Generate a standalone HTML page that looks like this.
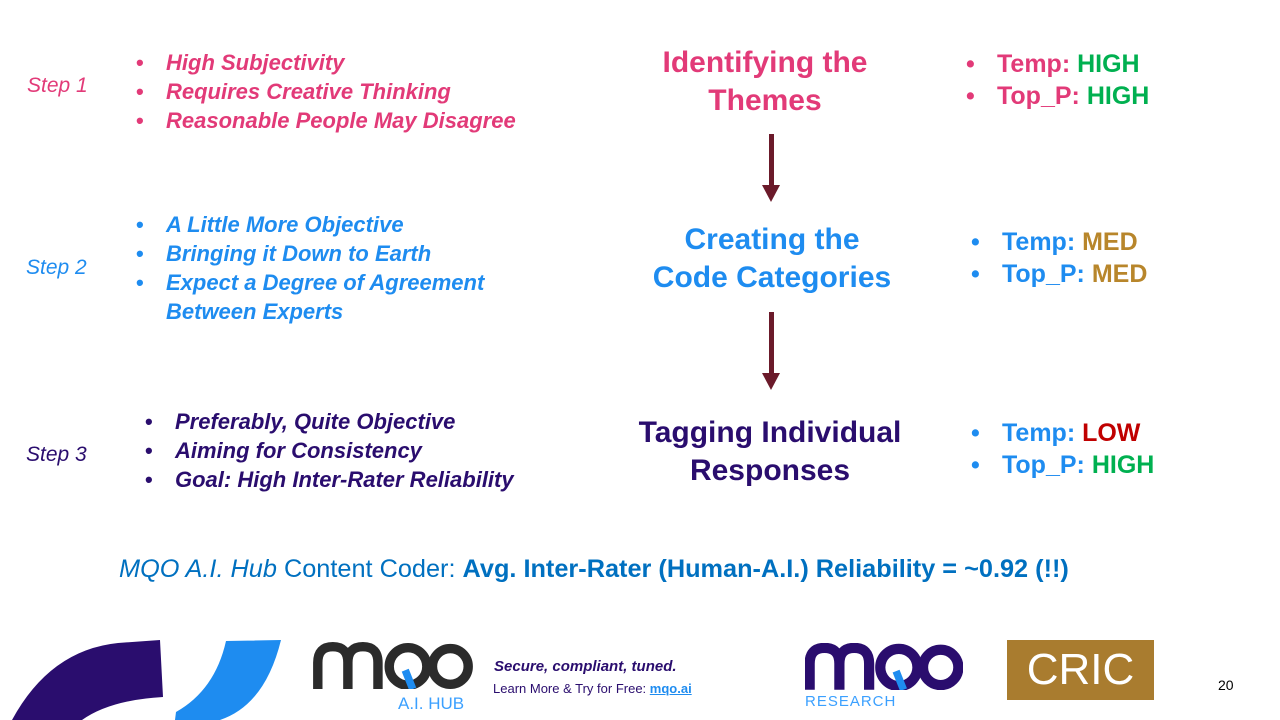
<!DOCTYPE html>
<html><head><meta charset="utf-8"><style>
body{margin:0;width:1280px;height:720px;position:relative;background:#fff;font-family:"Liberation Sans",sans-serif;overflow:hidden}
.a{position:absolute;white-space:nowrap}
.step{font-style:italic;font-size:21px}
ul{margin:0;padding:0;list-style:none}
li{position:relative;font-style:italic;font-weight:bold;font-size:22px;line-height:29px;padding-left:30px}
li:before{content:"•";position:absolute;left:0;font-style:normal}
.t{font-weight:bold;font-size:30px;text-align:center;line-height:38px}
.r li{font-style:normal;font-size:25px;line-height:32px;padding-left:31px}
.pink{color:#E23A78}.blue{color:#1E8CF0}.pur{color:#2A0D6E}
.g{color:#00B050}.o{color:#B8862B}.red{color:#C00000}
.arrow{position:absolute;width:5px;background:#6B1A2A}
.ah{position:absolute;width:0;height:0;border-left:9px solid transparent;border-right:9px solid transparent;border-top:17px solid #6B1A2A}
</style></head><body>
<div class="a step pink" style="left:27px;top:74px">Step 1</div>
<div class="a step blue" style="left:26px;top:256px">Step 2</div>
<div class="a step pur" style="left:26px;top:443px">Step 3</div>

<ul class="a pink" style="left:136px;top:48px"><li>High Subjectivity</li><li>Requires Creative Thinking</li><li>Reasonable People May Disagree</li></ul>
<ul class="a blue" style="left:136px;top:210px"><li>A Little More Objective</li><li>Bringing it Down to Earth</li><li>Expect a Degree of Agreement<br>Between Experts</li></ul>
<ul class="a pur" style="left:145px;top:407px"><li>Preferably, Quite Objective</li><li>Aiming for Consistency</li><li>Goal: High Inter-Rater Reliability</li></ul>

<div class="a t pink" style="left:615px;top:44px;width:300px">Identifying the<br>Themes</div>
<div class="a t blue" style="left:622px;top:221px;width:300px">Creating the<br>Code Categories</div>
<div class="a t pur" style="left:620px;top:414px;width:300px">Tagging Individual<br>Responses</div>

<div class="arrow" style="left:769px;top:134px;height:52px"></div><div class="ah" style="left:762px;top:185px"></div>
<div class="arrow" style="left:769px;top:312px;height:62px"></div><div class="ah" style="left:762px;top:373px"></div>

<ul class="a r pink" style="left:966px;top:48px"><li>Temp: <span class="g">HIGH</span></li><li>Top_P: <span class="g">HIGH</span></li></ul>
<ul class="a r blue" style="left:971px;top:226px"><li>Temp: <span class="o">MED</span></li><li>Top_P: <span class="o">MED</span></li></ul>
<ul class="a r blue" style="left:971px;top:417px"><li>Temp: <span class="red">LOW</span></li><li>Top_P: <span class="g">HIGH</span></li></ul>

<div class="a" style="left:119px;top:555px;font-size:25.3px;color:#0070C0"><i>MQO A.I. Hub</i> Content Coder: <b>Avg. Inter-Rater (Human-A.I.) Reliability = ~0.92 (!!)</b></div>

<svg class="a" style="left:0;top:630px" width="300" height="90">
<path d="M12 90 Q50 20 118 13 L160 10 L163 67 Q110 70 82 90 Z" fill="#2A0D6E"/>
<path d="M226 11 L281 10 Q265 75 220 90 L175 90 L176 82 Q215 60 226 11 Z" fill="#1E8CF0"/>
</svg>

<svg class="a" style="left:313px;top:642px" width="160" height="47" viewBox="0 0 170 50">
<g fill="none" stroke="#2b2b2b" stroke-width="10">
<path d="M5 50 V22 Q5 5 21 5 Q37 5 37 22 V50 M37 22 Q37 5 53 5 Q69 5 69 22 V50"/>
<circle cx="101" cy="26" r="20"/><circle cx="146" cy="26" r="19"/>
</g>
<path d="M98 30 L106 50" stroke="#1E8CF0" stroke-width="8"/>
</svg>
<div class="a" style="left:398px;top:694px;font-size:17px;color:#3ba0ff">A.I. HUB</div>
<div class="a" style="left:494px;top:658px;font-size:15px;font-weight:bold;font-style:italic;color:#2A0D6E">Secure, compliant, tuned.</div>
<div class="a" style="left:493px;top:681px;font-size:13px;color:#2A0D6E">Learn More &amp; Try for Free: <b style="color:#1E8CF0;text-decoration:underline">mqo.ai</b></div>

<svg class="a" style="left:805px;top:643px" width="158" height="47" viewBox="0 0 170 50">
<g fill="none" stroke="#2A0D6E" stroke-width="11">
<path d="M5 50 V22 Q5 5 21 5 Q37 5 37 22 V50 M37 22 Q37 5 53 5 Q69 5 69 22 V50"/>
<circle cx="101" cy="26" r="20"/><circle cx="146" cy="26" r="19"/>
</g>
<path d="M98 30 L106 50" stroke="#1E8CF0" stroke-width="8"/>
</svg>
<div class="a" style="left:805px;top:693px;font-size:15px;color:#3ba0ff;letter-spacing:1px">RESEARCH</div>
<div class="a" style="left:1007px;top:640px;width:147px;height:60px;background:#A97C2F;color:#fff;font-size:44px;text-align:center;line-height:60px">CRIC</div>
<div class="a" style="left:1218px;top:677px;font-size:14px;color:#000">20</div>
</body></html>
